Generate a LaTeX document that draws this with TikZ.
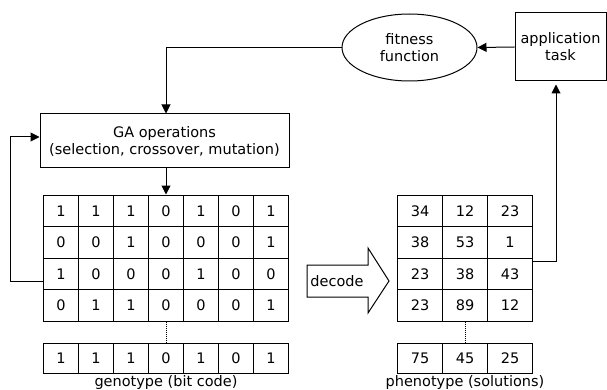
\documentclass[tikz,border=0pt]{standalone}
\usepackage{fontspec}
\setmainfont{DejaVu Sans}
\usetikzlibrary{arrows.meta,shapes.geometric}

\begin{document}
\begin{tikzpicture}[x=1pt,y=-1pt,font=\fontsize{14.5}{17}\selectfont,line width=1pt,
  bit/.style={draw,minimum width=35pt,minimum height=31.5pt,inner sep=0pt},
  gene/.style={draw,minimum width=45pt,minimum height=31.5pt,inner sep=0pt},
  opbox/.style={draw,align=center,inner sep=0pt},
  flow/.style={-{Triangle[length=9pt,width=9pt]}}]
\useasboundingbox (0,0) rectangle (607,390);
% upper part
\node[opbox,minimum width=249pt,minimum height=54pt] (ga) at (164.5,141) {GA operations\\(selection, crossover, mutation)};
\node[draw,ellipse,align=center,minimum width=135pt,minimum height=67pt,inner sep=0pt] (fit) at (409.5,47.5) {fitness\\function};
\node[opbox,minimum width=91pt,minimum height=68pt] (app) at (560.5,47) {application\\task};
% genotype
\node[bit] (g11) at (61,210.75) {1};
\node[bit] (g12) at (96,210.75) {1};
\node[bit] (g13) at (131,210.75) {1};
\node[bit] (g14) at (166,210.75) {0};
\node[bit] (g15) at (201,210.75) {1};
\node[bit] (g16) at (236,210.75) {0};
\node[bit] (g17) at (271,210.75) {1};
\node[bit] (g21) at (61,242.25) {0};
\node[bit] (g22) at (96,242.25) {0};
\node[bit] (g23) at (131,242.25) {1};
\node[bit] (g24) at (166,242.25) {0};
\node[bit] (g25) at (201,242.25) {0};
\node[bit] (g26) at (236,242.25) {0};
\node[bit] (g27) at (271,242.25) {1};
\node[bit] (g31) at (61,273.75) {1};
\node[bit] (g32) at (96,273.75) {0};
\node[bit] (g33) at (131,273.75) {0};
\node[bit] (g34) at (166,273.75) {0};
\node[bit] (g35) at (201,273.75) {1};
\node[bit] (g36) at (236,273.75) {0};
\node[bit] (g37) at (271,273.75) {0};
\node[bit] (g41) at (61,305.25) {0};
\node[bit] (g42) at (96,305.25) {1};
\node[bit] (g43) at (131,305.25) {1};
\node[bit] (g44) at (166,305.25) {0};
\node[bit] (g45) at (201,305.25) {0};
\node[bit] (g46) at (236,305.25) {0};
\node[bit] (g47) at (271,305.25) {1};
\node[bit,minimum height=30pt] (g51) at (61,358) {1};
\node[bit,minimum height=30pt] (g52) at (96,358) {1};
\node[bit,minimum height=30pt] (g53) at (131,358) {1};
\node[bit,minimum height=30pt] (g54) at (166,358) {0};
\node[bit,minimum height=30pt] (g55) at (201,358) {1};
\node[bit,minimum height=30pt] (g56) at (236,358) {0};
\node[bit,minimum height=30pt] (g57) at (271,358) {1};
\node (geno) at (166,382) {genotype (bit code)};
% phenotype
\node[gene] (p11) at (420,210.75) {34};
\node[gene] (p12) at (465,210.75) {12};
\node[gene] (p13) at (510,210.75) {23};
\node[gene] (p21) at (420,242.25) {38};
\node[gene] (p22) at (465,242.25) {53};
\node[gene] (p23) at (510,242.25) {1};
\node[gene] (p31) at (420,273.75) {23};
\node[gene] (p32) at (465,273.75) {38};
\node[gene] (p33) at (510,273.75) {43};
\node[gene] (p41) at (420,305.25) {23};
\node[gene] (p42) at (465,305.25) {89};
\node[gene] (p43) at (510,305.25) {12};
\node[gene,minimum height=30pt] (p51) at (420,358) {75};
\node[gene,minimum height=30pt] (p52) at (465,358) {45};
\node[gene,minimum height=30pt] (p53) at (510,358) {25};
\node (pheno) at (465,382) {phenotype (solutions)};
% decode arrow
\draw (307,265) -- (368,265) -- (368,248) -- (389,281) -- (368,313) -- (368,297) -- (307,297) -- cycle;
\node (decode) at (337,281) {decode};
% connectors
\draw[flow] (app.west) -- (fit.east);
\draw[flow] (fit.west) -| (ga.north -| g14);
\draw[flow] (ga.south -| g14) -- (g14.north);
\draw[flow] ([yshift=-8pt]g31.west) -- ++(-33,0) |- ([yshift=4pt]ga.west);
\draw[flow,shorten >=3pt] ([yshift=12pt]p33.east) -| ([xshift=-4.5pt]app.south);
\draw[densely dotted] (g44.south) -- (g54.north);
\draw[densely dotted] (p42.south) -- (p52.north);
\end{tikzpicture}
\end{document}
